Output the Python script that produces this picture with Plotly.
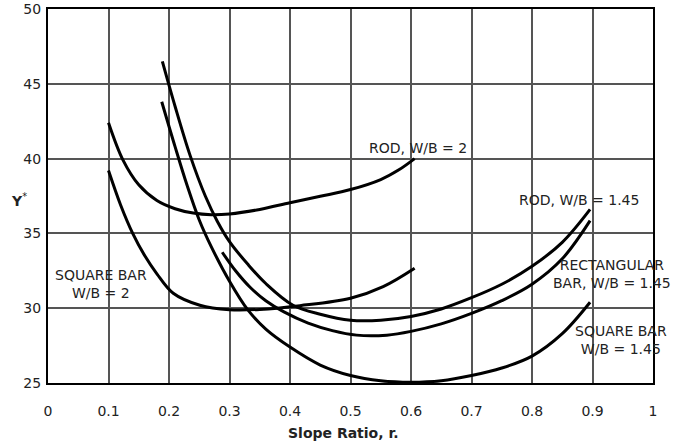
import plotly.graph_objects as go

# ---- data ----
rod2_x = [0.1, 0.124, 0.15, 0.18, 0.21, 0.24, 0.27, 0.3, 0.35, 0.4, 0.45, 0.5, 0.55, 0.58, 0.606]
rod2_y = [42.4, 39.9, 38.25, 37.2, 36.65, 36.36, 36.25, 36.3, 36.6, 37.05, 37.48, 37.93, 38.6, 39.25, 40.0]

sq2_x = [0.1, 0.12, 0.14, 0.16, 0.18, 0.207, 0.251, 0.3, 0.35, 0.4165, 0.5, 0.554, 0.606]
sq2_y = [39.2, 36.9, 35.0, 33.5, 32.3, 31.0, 30.2, 29.9, 29.92, 30.17, 30.66, 31.44, 32.67]

rod145_x = [0.189, 0.21, 0.235, 0.26, 0.28, 0.3, 0.33, 0.36, 0.405, 0.45, 0.5, 0.55, 0.6, 0.65, 0.7, 0.75, 0.8, 0.85, 0.896]
rod145_y = [46.5, 43.5, 40.2, 37.5, 35.8, 34.45, 32.95, 31.65, 30.2, 29.6, 29.2, 29.2, 29.45, 29.95, 30.7, 31.6, 32.8, 34.4, 36.6]

sq145_x = [0.188, 0.21, 0.23, 0.25, 0.27, 0.3, 0.33, 0.36, 0.4, 0.45, 0.5, 0.55, 0.6, 0.65, 0.7, 0.75, 0.8, 0.85, 0.896]
sq145_y = [43.8, 40.8, 38.2, 35.9, 34.1, 31.8, 29.9, 28.6, 27.4, 26.2, 25.5, 25.15, 25.05, 25.15, 25.5, 26.0, 26.8, 28.3, 30.4]

rect145_x = [0.288, 0.31, 0.334, 0.36, 0.39, 0.43, 0.47, 0.51, 0.56, 0.6, 0.65, 0.7, 0.75, 0.8, 0.85, 0.896]
rect145_y = [33.74, 32.5, 31.4, 30.5, 29.75, 29.0, 28.5, 28.2, 28.2, 28.45, 28.95, 29.65, 30.5, 31.6, 33.3, 35.85]

x_ticks = [0, 0.1, 0.2, 0.3, 0.4, 0.5, 0.6, 0.7, 0.8, 0.9, 1]
x_tick_labels = ["0", "0.1", "0.2", "0.3", "0.4", "0.5", "0.6", "0.7", "0.8", "0.9", "1"]
y_ticks = [25, 30, 35, 40, 45, 50]

labels = ["ROD, W/B = 2", "ROD, W/B = 1.45", "RECTANGULAR<br>BAR, W/B = 1.45",
          "SQUARE BAR<br>W/B = 1.45", "SQUARE BAR<br>W/B = 2"]
label_x = [0.611, 0.877, 0.933, 0.947, 0.0873]
label_y = [40.7, 37.23, 32.29, 27.9, 31.6]

FONT = "DejaVu Sans"

fig = go.Figure()
for xs, ys in [(rod2_x, rod2_y), (sq2_x, sq2_y), (rod145_x, rod145_y),
               (sq145_x, sq145_y), (rect145_x, rect145_y)]:
    fig.add_trace(go.Scatter(x=xs, y=ys, mode="lines",
                             line=dict(color="black", width=3, shape="spline", smoothing=1.0),
                             showlegend=False, hoverinfo="skip"))

for t, xx, yy in zip(labels, label_x, label_y):
    fig.add_annotation(x=xx, y=yy, xref="x", yref="y", text=t, showarrow=False,
                       font=dict(family=FONT, size=14, color="#222"),
                       xanchor="center", yanchor="middle", align="center")

# y-axis title (upright)
fig.add_annotation(x=0, y=37.2, xref="paper", yref="y", text="<b>Y</b><sup>*</sup>",
                   showarrow=False, xanchor="right", yanchor="middle", xshift=-19,
                   font=dict(family=FONT, size=14, color="#222"))
# x-axis title
fig.add_annotation(x=0.4886, y=0, xref="paper", yref="paper", text="<b>Slope Ratio, r.</b>",
                   showarrow=False, xanchor="center", yanchor="middle", yshift=-50,
                   font=dict(family=FONT, size=14, color="#222"))

fig.update_layout(
    width=688, height=443,
    margin=dict(l=48, r=35, t=9, b=60, autoexpand=False),
    paper_bgcolor="white", plot_bgcolor="white",
    font=dict(family=FONT, size=14, color="#222"),
)
fig.update_xaxes(range=[0, 1], tickvals=x_ticks, ticktext=x_tick_labels,
                 showgrid=True, gridcolor="#555", gridwidth=1.5,
                 showline=True, linecolor="black", linewidth=2, mirror=True,
                 zeroline=False, ticks="", ticklabelstandoff=14, automargin=False)
fig.update_yaxes(range=[25, 50], tickvals=y_ticks,
                 showgrid=True, gridcolor="#555", gridwidth=1.5,
                 showline=True, linecolor="black", linewidth=2, mirror=True,
                 zeroline=False, ticks="", ticklabelstandoff=2, automargin=False)

fig.write_html("out.html", config={"displayModeBar": False},
               post_script="document.body.style.margin='0';")
